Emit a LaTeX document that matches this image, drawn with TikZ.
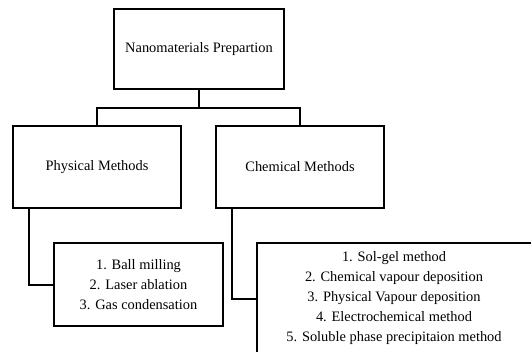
\documentclass[tikz,border=0pt]{standalone}
\usepackage{fontspec}
\setmainfont{Liberation Serif}
\usetikzlibrary{calc}
\begin{document}
\begin{tikzpicture}[x=0.75pt,y=-0.75pt,
  box/.style={draw=black, line width=1.5pt, rectangle, inner sep=0pt, font=\fontsize{10.8}{15}\selectfont, text=black},
  conn/.style={draw=black, line width=1.5pt}]
\useasboundingbox (0,0) rectangle (531,351);
\clip (0,0) rectangle (531,351);
\node[box, minimum width=127.5pt, minimum height=60pt] (top) at (199,49) {Nanomaterials Prepartion};
\node[box, minimum width=126pt, minimum height=61.5pt] (phys) at (97,167) {Physical Methods};
\node[box, minimum width=126pt, minimum height=61.5pt] (chem) at (300,167) {Chemical Methods};
\node[box, minimum width=126.75pt, minimum height=62.25pt, align=center] (physitems) at (138.5,284.5) {1. Ball milling\\2. Laser ablation\\3. Gas condensation};
\node[box, minimum width=207.75pt, minimum height=84pt] (chemitems) at (395.5,299) {};
\node[font=\fontsize{10.8}{15}\selectfont, align=center, inner sep=0pt, text=black] (chemtext) at (394,298) {1. Sol-gel method\\2. Chemical vapour deposition\\3. Physical Vapour deposition\\4. Electrochemical method\\5. Soluble phase precipitaion method};
\coordinate (junction) at (199,108);
\draw[conn] (top.south) -- (junction);
\draw[conn] (phys.north) |- (junction) -| (chem.north);
\draw[conn] (phys.south west) ++(17,0) |- (physitems.west);
\draw[conn] (chem.south west) ++(17,0) |- (chemitems.west);
\end{tikzpicture}
\end{document}
